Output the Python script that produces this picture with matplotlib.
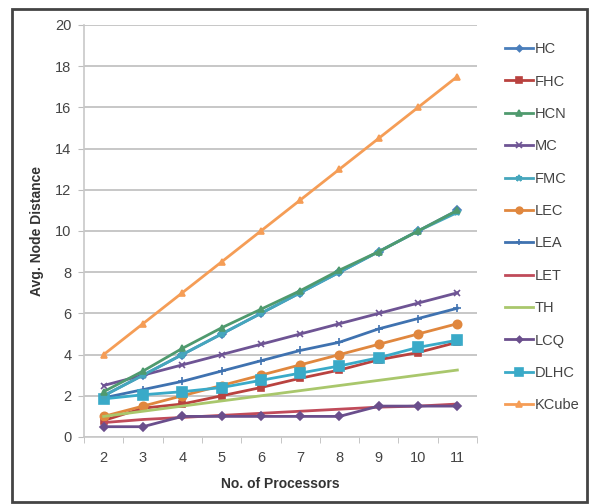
import matplotlib
matplotlib.use("Agg")
import matplotlib.pyplot as plt
from matplotlib.patches import Rectangle

plt.rcParams["font.family"] = ["Liberation Sans", "DejaVu Sans"]

processors = [2, 3, 4, 5, 6, 7, 8, 9, 10, 11]

hc    = [2.0, 3.0, 4.0, 5.0, 6.0, 7.0, 8.0, 9.0, 10.0, 11.0]
fhc   = [0.8, 1.4, 1.6, 2.0, 2.4, 2.85, 3.25, 3.75, 4.1, 4.6]
hcn   = [2.2, 3.2, 4.3, 5.3, 6.2, 7.1, 8.1, 9.0, 10.0, 11.0]
mc    = [2.5, 3.0, 3.5, 4.0, 4.5, 5.0, 5.5, 6.0, 6.5, 7.0]
fmc   = [2.0, 3.0, 4.0, 5.0, 6.0, 7.0, 8.0, 9.0, 10.0, 10.9]
lec   = [1.0, 1.5, 2.0, 2.5, 3.0, 3.5, 4.0, 4.5, 5.0, 5.5]
lea   = [1.9, 2.3, 2.7, 3.2, 3.7, 4.2, 4.6, 5.25, 5.75, 6.25]
let   = [0.7, 0.85, 0.95, 1.05, 1.15, 1.25, 1.35, 1.45, 1.5, 1.6]
th    = [1.0, 1.25, 1.5, 1.75, 2.0, 2.25, 2.5, 2.75, 3.0, 3.25]
lcq   = [0.5, 0.5, 1.0, 1.0, 1.0, 1.0, 1.0, 1.5, 1.5, 1.5]
dlhc  = [1.85, 2.05, 2.2, 2.4, 2.75, 3.1, 3.45, 3.85, 4.35, 4.7]
kcube = [4.0, 5.5, 7.0, 8.5, 10.0, 11.5, 13.0, 14.5, 16.0, 17.5]

series = [
    ("HC",    hc,    "#4A7EBB", "D", 4),
    ("FHC",   fhc,   "#B9423F", "s", 5),
    ("HCN",   hcn,   "#4F9A6E", "^", 5),
    ("MC",    mc,    "#6E5494", "x", 5),
    ("FMC",   fmc,   "#45A6BC", "*", 6),
    ("LEC",   lec,   "#E0873E", "o", 6),
    ("LEA",   lea,   "#3F72B0", "+", 6),
    ("LET",   let,   "#C04B5A", "",  0),
    ("TH",    th,    "#A9C76C", "",  0),
    ("LCQ",   lcq,   "#6A4E8C", "D", 4),
    ("DLHC",  dlhc,  "#3AAAC8", "s", 7),
    ("KCube", kcube, "#F59D56", "^", 5),
]

fig = plt.figure(figsize=(5.91, 5.04), dpi=100)
W, H = 591, 504
ax = fig.add_axes([84 / W, 1 - 437 / H, (477 - 84) / W, (437 - 25) / H])

pos = list(range(len(processors)))
z = {"HC": 2, "FHC": 3, "HCN": 6, "MC": 3, "FMC": 5, "LEC": 3, "LEA": 3,
     "LET": 3, "TH": 3, "LCQ": 4, "DLHC": 4, "KCube": 4}
for name, vals, col, mk, ms in series:
    ax.plot(pos, vals, color=col, lw=2.0, marker=mk if mk else None,
            markersize=ms, markeredgewidth=1.2, label=name, zorder=z[name])

ax.set_xlim(-0.5, len(processors) - 0.5)
ax.set_ylim(0, 20)
ax.set_yticks(range(0, 21, 2))
ax.set_xticks(pos)
ax.set_xticklabels([str(p) for p in processors])
ax.set_xticks([p + 0.5 for p in pos[:-1]] + [-0.5, len(pos) - 0.5], minor=True)
ax.grid(axis="y", color="#BDBDBD", lw=1.2, zorder=0)
ax.set_axisbelow(True)
for s in ("top", "right"):
    ax.spines[s].set_visible(False)
ax.spines["left"].set_color("#C8C8C8")
ax.spines["bottom"].set_color("#C8C8C8")
ax.spines["left"].set_linewidth(1.2)
ax.spines["bottom"].set_linewidth(1.2)
ax.tick_params(axis="x", which="major", length=0, pad=10, labelsize=10.5, labelcolor="#444444")
ax.tick_params(axis="x", which="minor", length=4, color="#BDBDBD", direction="out")
ax.tick_params(axis="y", length=4, color="#BDBDBD", pad=5, labelsize=10.5, labelcolor="#444444")

ax.set_xlabel("No. of Processors", fontsize=10, fontweight="bold", color="#333333", labelpad=9)
ax.set_ylabel("Avg. Node Distance", fontsize=10, fontweight="bold", color="#333333", labelpad=8)

leg = ax.legend(loc="upper left", bbox_to_anchor=(492 / W, 1 - 29 / H),
                bbox_transform=fig.transFigure, frameon=False, fontsize=10.5,
                handlelength=1.9, handletextpad=0.1, labelspacing=1.26,
                markerscale=0.8)
for t in leg.get_texts():
    t.set_color("#444444")

fig.patches.append(Rectangle((12 / W, 1 - 502 / H), (587 - 12) / W, (502 - 9) / H,
                             transform=fig.transFigure, fill=False,
                             edgecolor="#444444", lw=2.0))

fig.savefig("out.png", dpi=100)
